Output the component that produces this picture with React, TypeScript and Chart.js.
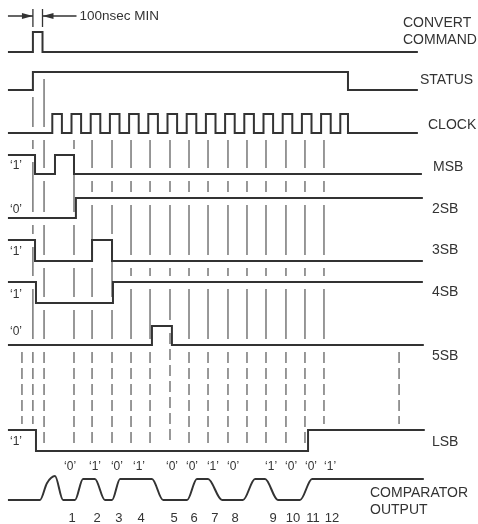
import React, { useEffect, useRef } from "react";
import { Chart, registerables } from "chart.js";

Chart.register(...registerables);

// ---- DATA (time in clock periods; t = 0 at the first clock rising edge) ----
const T_START = -2.31;

const CONVERT_INIT = 0;
const CONVERT_EDGES = [-1.01, -0.51];
const STATUS_INIT = 0;
const STATUS_EDGES = [-1.01, 15.4];
const CLOCK_INIT = 0;
const CLOCK_EDGES = [
  0, 0.5, 1, 1.5, 2, 2.5, 3, 3.5, 4, 4.5, 5, 5.5, 6, 6.5, 7, 7.5,
  8, 8.5, 9, 9.5, 10, 10.5, 11, 11.5, 12, 12.5, 13, 13.5, 14, 14.5, 15, 15.4,
];
const MSB_INIT = 1;
const MSB_EDGES = [-0.9, 0.14, 1.13];
const SB2_INIT = 0;
const SB2_EDGES = [1.23];
const SB3_INIT = 1;
const SB3_EDGES = [-0.9, 2.07, 3.11];
const SB4_INIT = 1;
const SB4_EDGES = [-0.85, 3.16];
const SB5_INIT = 0;
const SB5_EDGES = [5.19, 6.23];
const LSB_INIT = 1;
const LSB_EDGES = [-0.85, 13.32];
const SIGNAL_END = [19.04, 19.04, 19.04, 19.25, 19.3, 19.3, 19.3, 19.35, 19.4];

const SIGNAL_NAMES = [
  ["CONVERT", "COMMAND"], ["STATUS"], ["CLOCK"], ["MSB"], ["2SB"], ["3SB"], ["4SB"], ["5SB"], ["LSB"],
];

const COMPARATOR_T = [
  -2.31, -0.64, -0.28, 0.14, 0.56, 1.18, 1.6, 2.22, 2.74, 3.11, 3.53, 5.19, 5.77,
  7.02, 7.53, 8.11, 8.84, 9.93, 10.56, 11.08, 11.75, 12.9, 13.53, 19.35,
];
const COMPARATOR_LEVEL = [
  0, 0, 0.8, 1.14, 0, 0, 1, 1, 0, 0, 1, 1, 0, 0, 1, 1, 0, 0, 1, 1, 0, 0, 1, 1,
];
const COMPARATOR_NAME = ["COMPARATOR", "OUTPUT"];

const BIT_NUMBERS = ["1", "2", "3", "4", "5", "6", "7", "8", "9", "10", "11", "12"];
const BIT_VALUES = ["0", "1", "0", "1", "0", "0", "1", "0", "1", "0", "0", "1"];
const BIT_T = [1.03, 2.33, 3.47, 4.62, 6.34, 7.38, 8.47, 9.52, 11.5, 12.54, 13.58, 14.57];

const MARK_T = [-1.01, -0.43, 1.13, 2.07, 3.11, 4.1, 5.09, 6.13, 7.12, 8.11, 9.15, 10.14, 11.13, 12.17, 13.16, 14.15];
const DASH_EXTRA_T = [-1.58, 18.06];

const PULSE_WIDTH_TEXT = "100nsec MIN";

// ---- LAYOUT ----
const W = 478;
const H = 524;
const X0 = 52.3;
const PERIOD = 19.2;
const ROW_LOW_Y = [52, 90, 133, 174, 218, 261, 303, 345, 451];
const ROW_HIGH_Y = [32, 72, 114, 155, 198, 240, 282, 326, 430];
const COMP_LOW_Y = 500;
const COMP_HIGH_Y = 479;
const NAME_X = [403, 420, 428, 433, 432, 432, 432, 432, 432];
const NAME_Y = [23, 80, 125, 167, 209, 250, 292, 356, 442];
const INIT_LABEL_Y = [0, 0, 0, 166, 210, 252, 295, 332, 442];
const INIT_LABEL_X = 16;
const ARROW_Y = 16;
const INK = "#333333";
const FONT = '"Liberation Sans", Arial, Helvetica, sans-serif';

const INITS = [CONVERT_INIT, STATUS_INIT, CLOCK_INIT, MSB_INIT, SB2_INIT, SB3_INIT, SB4_INIT, SB5_INIT, LSB_INIT];
const EDGES = [CONVERT_EDGES, STATUS_EDGES, CLOCK_EDGES, MSB_EDGES, SB2_EDGES, SB3_EDGES, SB4_EDGES, SB5_EDGES, LSB_EDGES];

function levelAt(row: number, t: number) {
  let l = INITS[row];
  for (const e of EDGES[row]) if (e < t - 0.02) l = 1 - l;
  return l;
}
function rowY(row: number, l: number) {
  return l ? ROW_HIGH_Y[row] : ROW_LOW_Y[row];
}

function stepPoints(row: number) {
  const pts: any[] = [];
  let l = INITS[row];
  pts.push({ x: T_START, y: rowY(row, l) });
  for (const t of EDGES[row]) {
    pts.push({ x: t, y: rowY(row, l) });
    l = 1 - l;
    pts.push({ x: t, y: rowY(row, l) });
  }
  pts.push({ x: SIGNAL_END[row], y: rowY(row, l) });
  return pts;
}

function markPoints(dashed: boolean) {
  const pts: any[] = [];
  const add = (t: number, y1: number, y2: number) => {
    if (y2 - y1 < 4) return;
    pts.push({ x: t, y: y1 }, { x: t, y: y2 }, { x: t, y: null });
  };
  for (let r = 1; r <= 7; r++) {
    const isDash = r === 7;
    if (isDash !== dashed) continue;
    const times = r === 1 ? MARK_T.slice(0, 2) : isDash ? [...MARK_T, ...DASH_EXTRA_T] : MARK_T;
    for (const t of times) {
      const top = (r === 2 ? ROW_LOW_Y[2] : rowY(r, levelAt(r, t))) + 7;
      const bot = rowY(r + 1, levelAt(r + 1, t)) - 6;
      add(t, top, bot);
    }
  }
  return pts;
}

const textPlugin = {
  id: "timingText",
  afterDatasetsDraw(chart: any) {
    const { ctx } = chart;
    const xs = chart.scales.x;
    const px = (t: number) => xs.getPixelForValue(t);
    ctx.save();
    ctx.fillStyle = INK;
    ctx.textBaseline = "middle";
    // signal names
    ctx.font = `14px ${FONT}`;
    ctx.textAlign = "left";
    SIGNAL_NAMES.forEach((names, i) => {
      if (names.length === 2) {
        ctx.fillText(names[0], NAME_X[i], NAME_Y[i]);
        ctx.fillText(names[1], NAME_X[i], NAME_Y[i] + 17);
      } else ctx.fillText(names[0], NAME_X[i], NAME_Y[i]);
    });
    ctx.fillText(COMPARATOR_NAME[0], 370, 493);
    ctx.fillText(COMPARATOR_NAME[1], 370, 510);
    // initial levels
    ctx.font = `12px ${FONT}`;
    ctx.textAlign = "center";
    for (let r = 3; r < 9; r++) {
      ctx.fillText(`\u2018${INITS[r]}\u2019`, INIT_LABEL_X, INIT_LABEL_Y[r]);
    }
    // comparator decisions and bit numbers
    BIT_T.forEach((t, i) => {
      ctx.font = `12px ${FONT}`;
      ctx.fillText(`\u2018${BIT_VALUES[i]}\u2019`, px(t) - 2, 467);
      ctx.font = `13px ${FONT}`;
      ctx.fillText(BIT_NUMBERS[i], px(t), 518);
    });
    // pulse width annotation
    ctx.font = `13.5px ${FONT}`;
    ctx.textAlign = "left";
    ctx.fillText(PULSE_WIDTH_TEXT, px(CONVERT_EDGES[1]) + 37, ARROW_Y);
    const a = px(CONVERT_EDGES[0]);
    const b = px(CONVERT_EDGES[1]);
    ctx.beginPath();
    ctx.moveTo(a, ARROW_Y);
    ctx.lineTo(a - 11, ARROW_Y - 3);
    ctx.lineTo(a - 11, ARROW_Y + 3);
    ctx.closePath();
    ctx.fill();
    ctx.beginPath();
    ctx.moveTo(b, ARROW_Y);
    ctx.lineTo(b + 11, ARROW_Y - 3);
    ctx.lineTo(b + 11, ARROW_Y + 3);
    ctx.closePath();
    ctx.fill();
    ctx.restore();
  },
};

export default function App() {
  const ref = useRef<HTMLCanvasElement | null>(null);
  useEffect(() => {
    if (!ref.current) return;
    const datasets: any[] = [];
    for (let r = 0; r < 9; r++) {
      datasets.push({
        data: stepPoints(r),
        showLine: true,
        borderColor: INK,
        borderWidth: 2,
        pointRadius: 0,
        fill: false,
      });
    }
    datasets.push({
      data: COMPARATOR_T.map((t, i) => ({
        x: t,
        y: COMP_LOW_Y - COMPARATOR_LEVEL[i] * (COMP_LOW_Y - COMP_HIGH_Y),
      })),
      showLine: true,
      borderColor: INK,
      borderWidth: 2,
      pointRadius: 0,
      fill: false,
      cubicInterpolationMode: "monotone",
    });
    datasets.push({
      data: markPoints(false),
      showLine: true,
      borderColor: "#555555",
      borderWidth: 1.2,
      pointRadius: 0,
      spanGaps: false,
    });
    datasets.push({
      data: markPoints(true),
      showLine: true,
      borderColor: "#555555",
      borderWidth: 1.2,
      borderDash: [11, 5],
      pointRadius: 0,
      spanGaps: false,
    });
    // pulse-width dimension marks and arrow shafts
    const pxToT = (dp: number) => dp / PERIOD;
    datasets.push({
      data: [
        { x: CONVERT_EDGES[0], y: 9 }, { x: CONVERT_EDGES[0], y: 27 }, { x: CONVERT_EDGES[0], y: null },
        { x: CONVERT_EDGES[1], y: 9 }, { x: CONVERT_EDGES[1], y: 27 }, { x: CONVERT_EDGES[1], y: null },
        { x: T_START, y: ARROW_Y }, { x: CONVERT_EDGES[0], y: ARROW_Y }, { x: CONVERT_EDGES[0], y: null },
        { x: CONVERT_EDGES[1], y: ARROW_Y }, { x: CONVERT_EDGES[1] + pxToT(34), y: ARROW_Y },
      ],
      showLine: true,
      borderColor: INK,
      borderWidth: 1.3,
      pointRadius: 0,
      spanGaps: false,
    });
    const chart = new Chart(ref.current, {
      type: "scatter",
      data: { datasets },
      options: {
        animation: false,
        responsive: false,
        maintainAspectRatio: false,
        events: [],
        layout: { padding: 0 },
        plugins: { legend: { display: false }, tooltip: { enabled: false } },
        scales: {
          x: { type: "linear", display: false, min: -X0 / PERIOD, max: (W - X0) / PERIOD },
          y: { type: "linear", display: false, min: 0, max: H, reverse: true },
        },
      },
      plugins: [textPlugin],
    } as any);
    return () => chart.destroy();
  }, []);
  return (
    <div style={{ position: "absolute", left: 0, top: 0, width: W, height: H, background: "#fff" }}>
      <canvas ref={ref} width={W} height={H} style={{ display: "block" }} />
    </div>
  );
}
